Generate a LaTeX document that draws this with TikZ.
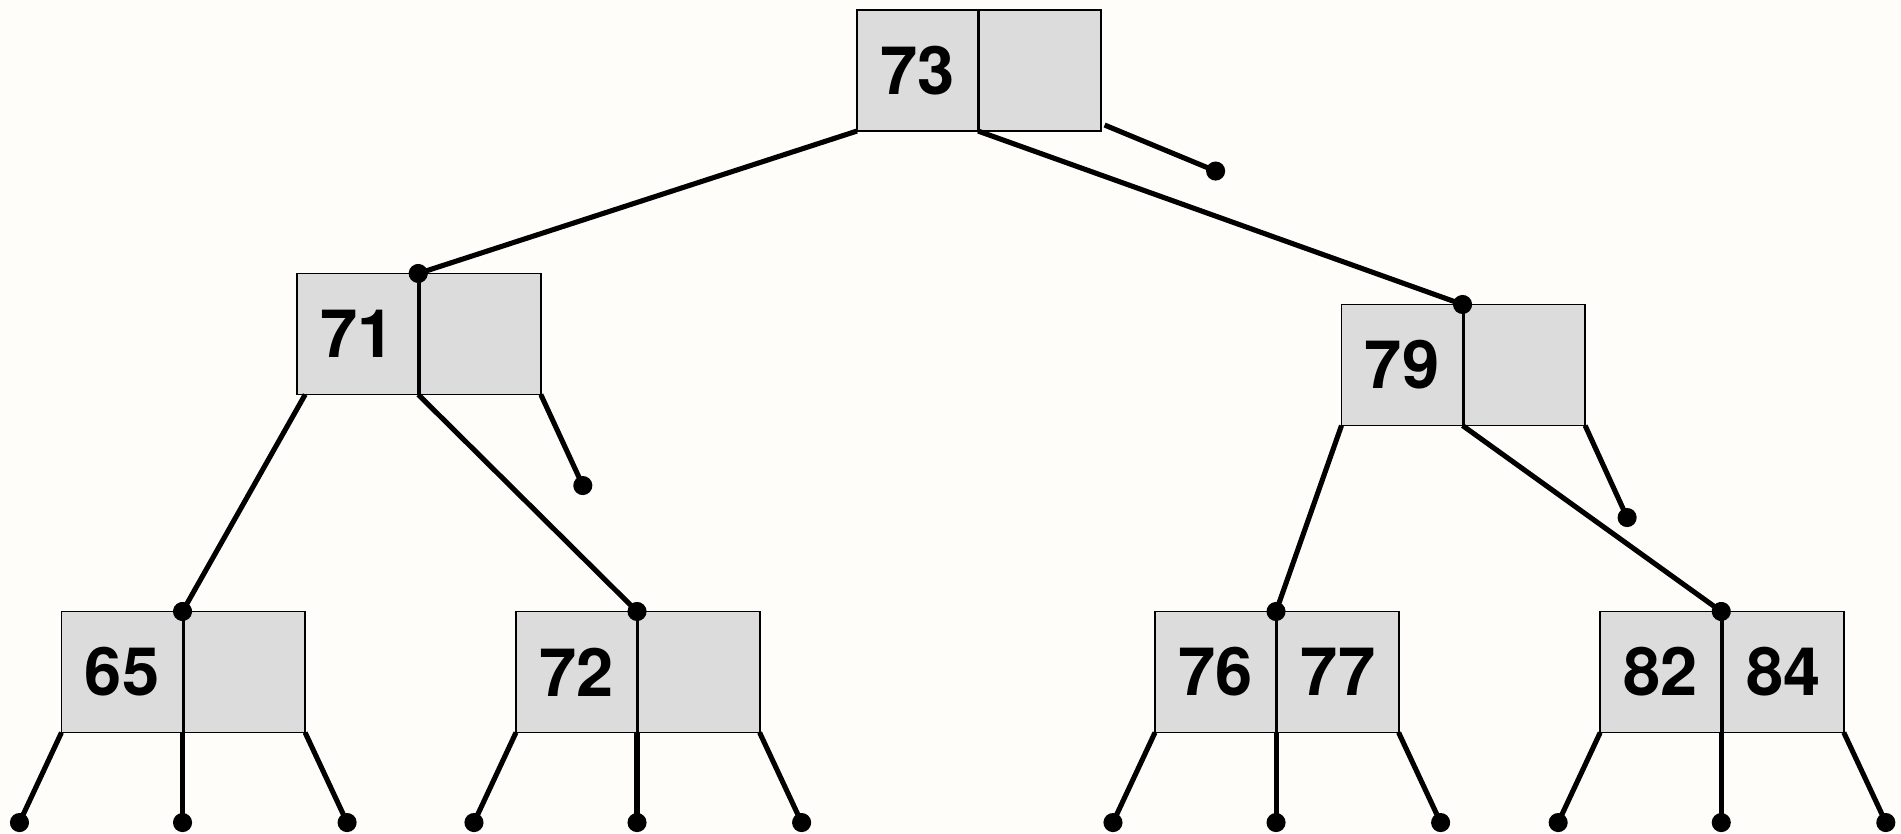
\documentclass[tikz,border=0pt]{standalone}
\usepackage{fontspec}
\setmainfont{TeX Gyre Heros}
\usetikzlibrary{positioning, arrows.meta}
\definecolor{cellgray}{RGB}{220,220,220}
\definecolor{paper}{RGB}{254,253,250}

\begin{document}
\begin{tikzpicture}[x=0.01cm, y=-0.01cm,
  cell/.style={draw, line width=0.5pt, fill=cellgray, minimum width=1.21cm,
    minimum height=1.21cm, inner sep=0pt, outer sep=0pt,
    font=\fontsize{19}{20}\selectfont\bfseries},
  ptr/.style={line width=1.45pt, -{Circle[length=0.19cm]}, shorten >=-0.095cm},
]
  \fill[paper] (0,0) rectangle (1901,833);
  \useasboundingbox (0,0) rectangle (1901,833);

  % root
  \node[cell] (n73-a) at (917.5,70.5) {73};
  \node[cell, right=0.015cm of n73-a] (n73-b) {};
  % inner nodes
  \node[cell] (n71-a) at (357.7,334) {71};
  \node[cell, right=0.015cm of n71-a] (n71-b) {};
  \node[cell] (n79-a) at (1402,365) {79};
  \node[cell, right=0.015cm of n79-a] (n79-b) {};
  % leaves
  \node[cell] (n65-a) at (122,672) {65};
  \node[cell, right=0.015cm of n65-a] (n65-b) {};
  \node[cell] (n72-a) at (576.5,672) {72};
  \node[cell, right=0.015cm of n72-a] (n72-b) {};
  \node[cell] (n76-a) at (1215.5,672) {76};
  \node[cell, right=0.015cm of n76-a] (n76-b) {77};
  \node[cell] (n82-a) at (1660.7,672) {82};
  \node[cell, right=0.015cm of n82-a] (n82-b) {84};

  \draw[ptr] (n73-a.south west) -- (n71-a.north east);
  \draw[ptr] (n73-a.south east) -- (n79-a.north east);
  \coordinate (z73) at ([shift={(115,40)}]n73-b.south east);
  \draw[ptr] ([shift={(4,-6)}]n73-b.south east) -- (z73);

  \draw[ptr] ([xshift=0.08cm]n71-a.south west) -- (n65-a.north east);
  \draw[ptr] (n71-a.south east) -- (n72-a.north east);
  \coordinate (z71) at ([shift={(42,91)}]n71-b.south east);
  \draw[ptr] (n71-b.south east) -- (z71);

  \draw[ptr] (n79-a.south west) -- (n76-a.north east);
  \draw[ptr] (n79-a.south east) -- (n82-a.north east);
  \coordinate (z79) at ([shift={(42,92)}]n79-b.south east);
  \draw[ptr] (n79-b.south east) -- (z79);

  % null pointers of the leaves
  \foreach \key in {65,72,76,82} {
    \coordinate (z\key-l) at ([shift={(-42,90)}]n\key-a.south west);
    \coordinate (z\key-m) at ([shift={(0,90)}]n\key-a.south east);
    \coordinate (z\key-r) at ([shift={(42,90)}]n\key-b.south east);
    \draw[ptr] (n\key-a.south west) -- (z\key-l);
    \draw[ptr] (n\key-a.south east) -- (z\key-m);
    \draw[ptr] (n\key-b.south east) -- (z\key-r);
  }
\end{tikzpicture}
\end{document}
